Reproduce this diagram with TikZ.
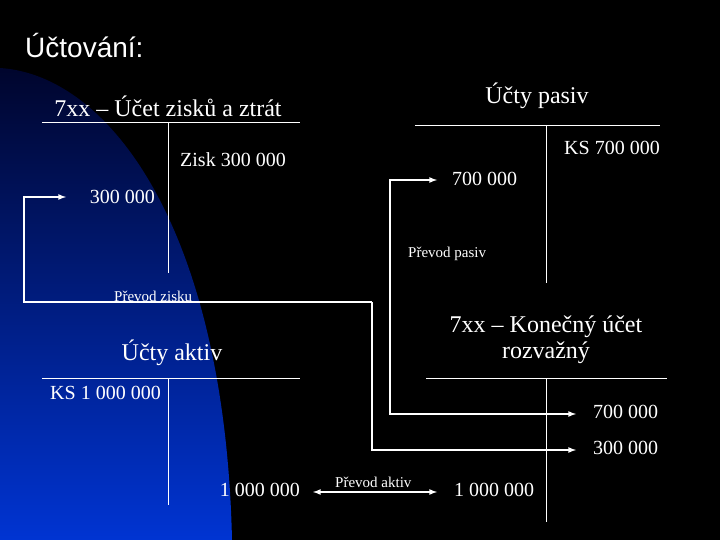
\documentclass[tikz,border=0pt]{standalone}
\usepackage{fontspec}
\setmainfont{Liberation Serif}
\newfontfamily\hdfont{Liberation Sans}
\definecolor{bluetop}{RGB}{0,5,45}
\definecolor{bluebot}{RGB}{0,52,210}
\begin{document}
\begin{tikzpicture}[x=1pt,y=-1pt,
  ln/.style={white,line width=0.9pt},
  arr/.style={white,line width=1.6pt,-latex},
  darr/.style={white,line width=1.6pt,latex-latex},
  big/.style={text=white,font=\fontsize{24}{26}\selectfont,inner sep=0pt},
  mid/.style={text=white,font=\fontsize{20}{22}\selectfont,inner sep=0pt},
  sml/.style={text=white,font=\fontsize{15}{16}\selectfont,inner sep=0pt}]
\useasboundingbox (0,0) rectangle (720,540);
\fill[black] (0,0) rectangle (720,540);
\shade[top color=bluetop,bottom color=bluebot] (0,68) .. controls (110,75) and (225,230) .. (232,540) -- (0,540) -- cycle;
\node[text=white,font=\hdfont\fontsize{28}{30}\selectfont,anchor=west,inner sep=0pt] (t) at (25,45) {Účtování:};
% ZZ account
\node[big] (zzt) at (168,106) {7xx – Účet zisků a ztrát};
\coordinate (zzl) at (42,122); \coordinate (zzr) at (300,122);
\coordinate (zzb) at (168,273); \coordinate (zzm) at (168,122);
\draw[ln] (zzl) -- (zzr); \draw[ln] (zzm) -- (zzb);
\node[mid,anchor=west] (zisk) at (180,160) {Zisk 300 000};
\node[mid,anchor=east] (zz3) at (155,197) {300 000};
\node[sml,anchor=west] (pz) at (114,296) {Převod zisku};
% Pasiv
\node[big] (pt) at (537,96) {Účty pasiv};
\coordinate (pl) at (415,125); \coordinate (pr) at (660,125);
\coordinate (pm) at (546,125); \coordinate (pb) at (546,283);
\draw[ln] (pl) -- (pr); \draw[ln] (pm) -- (pb);
\node[mid,anchor=east] (ks7) at (660,148) {KS 700 000};
\node[mid,anchor=west] (p7) at (452,179) {700 000};
\node[sml,anchor=west] (pp) at (408,254) {Převod pasiv};
% Konecny
\node[big,align=center] (kt) at (546,340) {7xx – Konečný účet\\rozvažný};
\coordinate (kl) at (426,378); \coordinate (kr) at (667,378);
\coordinate (km) at (546,378); \coordinate (kb) at (546,522);
\draw[ln] (kl) -- (kr); \draw[ln] (km) -- (kb);
\node[mid,anchor=west] (k7) at (593,412) {700 000};
\node[mid,anchor=west] (k3) at (593,448) {300 000};
\node[mid,anchor=west] (k1) at (454,490) {1 000 000};
% Aktiv
\node[big] (at) at (172,353) {Účty aktiv};
\coordinate (al) at (42,378); \coordinate (ar) at (300,378);
\coordinate (am) at (168,378); \coordinate (ab) at (168,505);
\draw[ln] (al) -- (ar); \draw[ln] (am) -- (ab);
\node[mid,anchor=west] (ks1) at (50,393) {KS 1 000 000};
\node[mid,anchor=east] (a1) at (300,490) {1 000 000};
\node[sml,anchor=west] (pa) at (335,482) {Převod aktiv};
% arrow end points
\coordinate (e1) at (66,197); \coordinate (e2) at (576,450);
\coordinate (e3) at (437,180); \coordinate (e4) at (576,414);
\coordinate (e5) at (313,492); \coordinate (e6) at (437,492);
\draw[arr] (372,302) -- (24,302) -- (24,197) -- (e1);
\draw[arr] (372,302) -- (372,450) -- (e2);
\draw[darr] (e3) -- (390,180) -- (390,414) -- (e4);
\draw[darr] (e5) -- (e6);
\end{tikzpicture}
\end{document}
